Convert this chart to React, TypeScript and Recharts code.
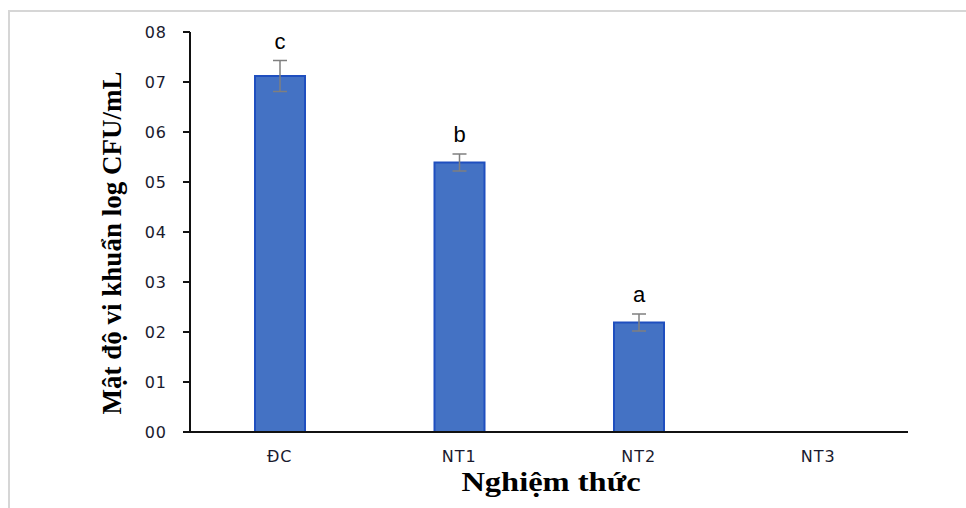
import { BarChart, Bar, XAxis, YAxis, ErrorBar, LabelList } from 'recharts'

const treatments = ['ĐC', 'NT1', 'NT2', 'NT3']
const density = [7.12, 5.39, 2.19, 0]
const sd = [0.31, 0.17, 0.17, 0]
const letters = ['c', 'b', 'a', '']
const yTicks = [0, 1, 2, 3, 4, 5, 6, 7, 8]

const data = treatments.map((name, i) => ({
  name,
  value: density[i],
  err: sd[i],
  letter: letters[i],
}))

const tickStyle = {
  fill: '#1a1a2e',
  fontSize: 16,
  letterSpacing: 1,
  fontFamily: "'DejaVu Sans', sans-serif",
}

const renderLetter = (props: any) => {
  const { x, y, width, height, index } = props
  const row = data[index]
  if (!row || !row.letter || !row.value) return null
  const errPx = (row.err / row.value) * height
  return (
    <text
      x={x + width / 2}
      y={y - errPx - 12}
      textAnchor="middle"
      fontFamily="'Liberation Sans', Arial, sans-serif"
      fontSize={22}
      fill="#000"
    >
      {row.letter}
    </text>
  )
}

export default function App() {
  return (
    <div style={{ position: 'absolute', left: 0, top: 0, width: 966, height: 508, background: '#fff', overflow: 'hidden' }}>
      <div
        style={{
          position: 'absolute',
          left: 8,
          top: 10,
          width: 970,
          height: 520,
          borderLeft: '2px solid #d6d6d6',
          borderTop: '2px solid #d6d6d6',
        }}
      />
      <BarChart
        width={966}
        height={508}
        data={data}
        margin={{ top: 32, right: 58, bottom: 46, left: 130 }}
        style={{ position: 'absolute', left: 0, top: 0 }}
      >
        <XAxis
          dataKey="name"
          axisLine={{ stroke: '#111', strokeWidth: 2 }}
          tickLine={false}
          tickSize={0}
          tickMargin={19}
          height={30}
          tick={tickStyle}
        />
        <YAxis
          domain={[0, 8]}
          ticks={yTicks}
          interval={0}
          width={60}
          tickFormatter={(v: number) => '0' + v}
          axisLine={{ stroke: '#111', strokeWidth: 2 }}
          tickLine={{ stroke: '#111', strokeWidth: 2 }}
          tickSize={7}
          tickMargin={16}
          tick={tickStyle}
        />
        <Bar dataKey="value" fill="#4472C4" stroke="#1f4fbf" strokeWidth={2} barSize={50} isAnimationActive={false}>
          <ErrorBar dataKey="err" width={7} stroke="#7f7f7f" strokeWidth={1.5} direction="y" />
          <LabelList dataKey="letter" content={renderLetter} />
        </Bar>
      </BarChart>
      <div
        style={{
          position: 'absolute',
          left: 551,
          top: 466,
          transform: 'translateX(-50%) scaleX(1.16)',
          fontFamily: "'Liberation Serif', 'Times New Roman', serif",
          fontWeight: 'bold',
          fontSize: 28,
          color: '#000',
          whiteSpace: 'nowrap',
        }}
      >
        Nghiệm thức
      </div>
      <div
        style={{
          position: 'absolute',
          left: 112,
          top: 243,
          transform: 'translate(-50%, -50%) rotate(-90deg)',
          fontFamily: "'Liberation Serif', 'Times New Roman', serif",
          fontWeight: 'bold',
          fontSize: 27,
          color: '#000',
          whiteSpace: 'nowrap',
        }}
      >
        Mật độ vi khuẩn log CFU/mL
      </div>
    </div>
  )
}
